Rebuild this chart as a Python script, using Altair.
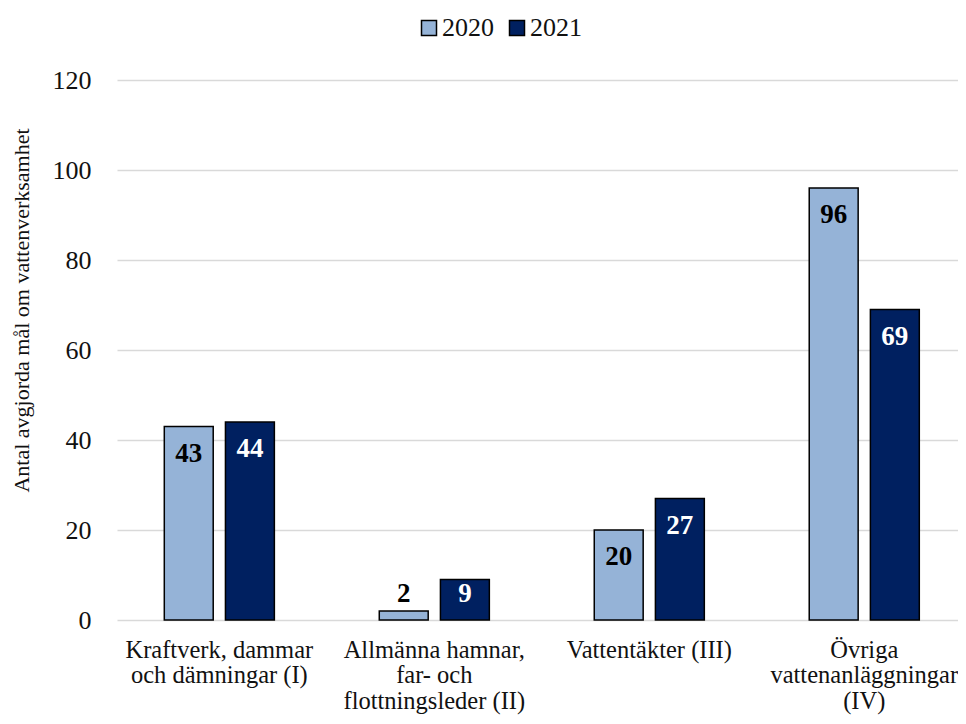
import altair as alt
import pandas as pd

categories = [
    "Kraftverk, dammar\noch dämningar (I)",
    "Allmänna hamnar,\nfar- och\nflottningsleder (II)",
    "Vattentäkter (III)",
    "Övriga\nvattenanläggningar\n(IV)",
]
years = ["2020", "2021"]
values_2020 = [43, 2, 20, 96]
values_2021 = [44, 9, 27, 69]

rows = []
for c, a, b in zip(categories, values_2020, values_2021):
    rows.append({"cat": c, "year": "2020", "value": a})
    rows.append({"cat": c, "year": "2021", "value": b})
df = pd.DataFrame(rows)

FONT = "Liberation Serif"
TXT = "#111111"

x = alt.X(
    "cat:N",
    sort=categories,
    scale=alt.Scale(paddingInner=0.488, paddingOuter=0.2, align=0.55),
    axis=alt.Axis(
        title=None,
        labelAngle=0,
        labelExpr="split(datum.label, '\\n')",
        labelFont=FONT,
        labelFontSize=24.5,
        labelColor=TXT,
        labelLineHeight=25.5,
        labelPadding=18,
        labelLimit=400,
        labelOverlap=False,
        domain=False,
        ticks=False,
        grid=False,
    ),
)
xoff = alt.XOffset("year:N", sort=years, scale=alt.Scale(paddingInner=0.2, paddingOuter=0))

bars = alt.Chart(df).mark_bar(stroke="black", strokeWidth=1.5).encode(
    x=x,
    xOffset=xoff,
    y=alt.Y(
        "value:Q",
        scale=alt.Scale(domain=[0, 120], nice=False),
        axis=alt.Axis(
            title="Antal avgjorda mål om vattenverksamhet",
            titleFont=FONT,
            titleFontSize=22,
            titleFontWeight="normal",
            titleColor=TXT,
            titlePadding=19,
            titleY=230,
            values=[0, 20, 40, 60, 80, 100, 120],
            labelFont=FONT,
            labelFontSize=26,
            labelColor=TXT,
            labelPadding=26,
            ticks=False,
            domain=False,
            grid=True,
            gridColor="#d9d9d9",
            gridWidth=1.5,
        ),
    ),
    color=alt.Color(
        "year:N",
        sort=years,
        scale=alt.Scale(domain=years, range=["#95B3D7", "#002060"]),
        legend=alt.Legend(
            title=None,
            orient="none",
            direction="horizontal",
            legendX=299,
            legendY=-65,
            symbolType="square",
            symbolSize=225,
            symbolStrokeColor="black",
            symbolStrokeWidth=1.5,
            labelFont=FONT,
            labelFontSize=26,
            labelColor=TXT,
            labelOffset=0,
            columnPadding=10,
        ),
    ),
)

labels = alt.Chart(df).transform_calculate(
    lpos="max(datum.value - 6.1, 5.8)"
).mark_text(font=FONT, fontSize=27, fontWeight="bold", baseline="middle").encode(
    x=x,
    xOffset=xoff,
    y=alt.Y("lpos:Q"),
    text=alt.Text("value:Q"),
    color=alt.Color(
        "year:N",
        sort=years,
        scale=alt.Scale(domain=years, range=["black", "white"]),
        legend=None,
    ),
)

chart = (
    alt.layer(bars, labels)
    .resolve_scale(color="independent")
    .properties(
        width=841,
        height=540,
        autosize=alt.AutoSizeParams(type="none"),
        padding={"left": 109, "top": 72, "right": 0, "bottom": 96},
    )
    .configure_view(stroke=None)
)

chart.save("out.html", embed_options={"renderer": "svg", "actions": False})
